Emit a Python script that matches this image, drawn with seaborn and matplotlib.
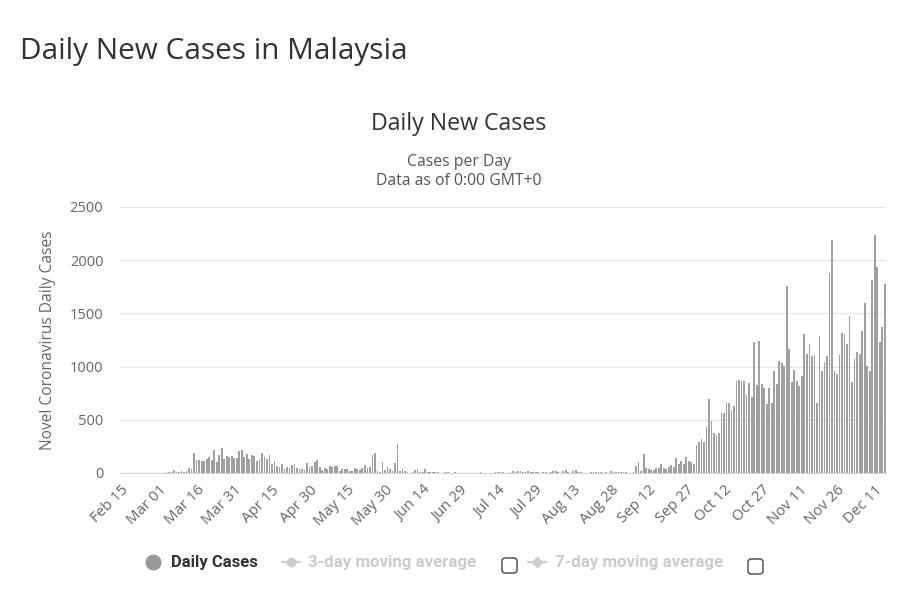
import numpy as np
import pandas as pd
import matplotlib
matplotlib.use("Agg")
import matplotlib.pyplot as plt
import seaborn as sns
from matplotlib.lines import Line2D
from matplotlib.patches import FancyBboxPatch
from matplotlib.transforms import IdentityTransform

# ---- data: daily new cases, Feb 15 - Dec 15, 2020 ----
feb = [0, 0, 0, 0, 0, 0, 0, 0, 0, 0, 0, 0, 1, 2, 0]
mar = [0, 4, 0, 7, 14, 5, 28, 10, 6, 18, 12, 20, 48, 41,
       190, 125, 120, 117, 110, 130, 153, 123, 212, 106, 172, 235, 130, 159, 150, 156, 140]
apr = [142, 208, 217, 150, 179, 131, 170, 156, 109, 118, 184, 153, 134, 170, 85,
       110, 69, 54, 84, 36, 57, 50, 71, 88, 51, 38, 40, 31, 94, 57]
may = [69, 105, 122, 55, 30, 45, 39, 68, 54, 67, 70, 16, 37, 40, 36, 17, 22, 47, 37, 31,
       50, 78, 48, 60, 172, 187, 15, 10, 103, 30, 57]
jun = [38, 20, 93, 277, 19, 37, 19, 7, 2, 7, 31, 33, 14, 8, 41, 9, 5, 10, 7, 6,
       3, 2, 8, 6, 3, 4, 5, 3, 4, 1]
jul = [1, 3, 0, 4, 3, 2, 5, 1, 3, 3, 2, 2, 10, 6, 8, 13, 2, 3, 5, 15, 7, 21, 15, 9,
       13, 17, 9, 11, 5, 9, 2]
aug = [6, 7, 3, 12, 19, 15, 13, 3, 19, 25, 7, 4, 16, 25, 8, 9, 4, 3, 2, 5, 6, 9, 6, 5,
       3, 8, 3, 17, 7, 10, 6]
sep = [6, 8, 5, 2, 3, 8, 62, 100, 18, 182, 45, 40, 30, 26, 50, 45, 84, 45, 37, 55,
       78, 57, 140, 82, 111, 82, 150, 115, 101, 89]
oct_ = [260, 287, 317, 293, 432, 691, 489, 374, 354, 374, 561, 563, 660, 660, 589, 629,
        869, 871, 865, 862, 732, 847, 710, 1228, 823, 1240, 835, 801, 649, 799, 659]
nov = [957, 834, 1054, 1032, 1009, 1755, 1168, 852, 972, 869, 822, 912, 1304, 1114, 1208,
       1100, 1105, 659, 1290, 960, 1041, 1096, 1884, 2188, 960, 935, 1109, 1315, 1309, 1212]
dec = [1472, 851, 1075, 1141, 1123, 1335, 1600, 1010, 959, 1810, 2234, 1937, 1229, 1371, 1772]

cases = feb + mar + apr + may + jun + jul + aug + sep + oct_ + nov + dec
dates = pd.date_range("2020-02-15", periods=len(cases), freq="D")
day_labels = [d.strftime("%b %d") for d in dates]

tick_labels = ["Feb 15", "Mar 01", "Mar 16", "Mar 31", "Apr 15", "Apr 30", "May 15",
               "May 30", "Jun 14", "Jun 29", "Jul 14", "Jul 29", "Aug 13", "Aug 28",
               "Sep 12", "Sep 27", "Oct 12", "Oct 27", "Nov 11", "Nov 26", "Dec 11"]
y_ticks = [0, 500, 1000, 1500, 2000, 2500]

# ---- figure ----
sns.set_theme(style="white")
plt.rcParams["font.family"] = ["Open Sans", "DejaVu Sans"]

W, H = 908, 606
fig = plt.figure(figsize=(W / 100, H / 100), dpi=100)
fig.patch.set_facecolor("white")

ax = fig.add_axes([120 / W, 1 - 473 / H, 766 / W, 266 / H])
df = pd.DataFrame({"day": day_labels, "cases": cases})
sns.barplot(data=df, x="day", y="cases", color="#a0a0a0", saturation=1,
            width=0.7, errorbar=None, ax=ax, linewidth=0)

ax.set_xlim(-0.5, len(cases) - 0.5)
ax.set_ylim(0, 2500)
ax.set_yticks(y_ticks)
ax.set_yticklabels([str(v) for v in y_ticks], fontsize=10.5, color="#666666")
ax.yaxis.grid(True, color="#e6e6e6", lw=0.8)
ax.xaxis.grid(False)
ax.set_axisbelow(True)
for s in ["top", "right", "left"]:
    ax.spines[s].set_visible(False)
ax.spines["bottom"].set_color("#ccd6eb")
ax.spines["bottom"].set_linewidth(0.8)

ax.set_xticks(list(range(0, 301, 15)))
ax.set_xticklabels(tick_labels, rotation=45, ha="right", rotation_mode="anchor",
                   fontsize=10.8, color="#666666")
ax.tick_params(axis="x", length=0, pad=7)
ax.tick_params(axis="y", length=0, pad=12)
ax.set_xlabel("")
ax.set_ylabel("Novel Coronavirus Daily Cases", fontsize=11.2, color="#666666")
ax.yaxis.set_label_coords(-0.083, 0.5)

# ---- titles ----
fig.text(20 / W, 1 - 51 / H, "Daily New Cases in Malaysia", fontsize=21.4,
         color="#333333", ha="left", va="center")
fig.text(459 / W, 1 - 124 / H, "Daily New Cases", fontsize=16.7,
         color="#333333", ha="center", va="center")
fig.text(459 / W, 1 - 162 / H, "Cases per Day", fontsize=11.3,
         color="#555555", ha="center", va="center")
fig.text(459 / W, 1 - 181 / H, "Data as of 0:00 GMT+0", fontsize=11.3,
         color="#555555", ha="center", va="center")

# ---- legend (drawn manually) ----
ly = 1 - 562 / H
fig.add_artist(Line2D([153 / W], [ly], marker="o", ms=10.5, color="#999999",
                      transform=fig.transFigure))
fig.text(171 / W, ly, "Daily Cases", fontsize=12, fontweight="bold",
         color="#333333", ha="left", va="center", family=["Roboto", "DejaVu Sans"])

fig.add_artist(Line2D([282 / W, 300 / W], [ly, ly], color="#cccccc", lw=1.5,
                      transform=fig.transFigure))
fig.add_artist(Line2D([291 / W], [ly], marker="o", ms=6, color="#cccccc",
                      transform=fig.transFigure))
fig.text(308 / W, ly, "3-day moving average", fontsize=12.2, fontweight="bold",
         color="#cccccc", ha="left", va="center", family=["Roboto", "DejaVu Sans"])

fig.add_artist(Line2D([528 / W, 546 / W], [ly, ly], color="#cccccc", lw=1.5,
                      transform=fig.transFigure))
fig.add_artist(Line2D([537 / W], [ly], marker="D", ms=5, color="#cccccc",
                      transform=fig.transFigure))
fig.text(555 / W, ly, "7-day moving average", fontsize=12.2, fontweight="bold",
         color="#cccccc", ha="left", va="center", family=["Roboto", "DejaVu Sans"])

for bx, by in [(502, 573), (748, 574)]:
    fig.add_artist(FancyBboxPatch((bx, H - by), 15, 15,
                                  boxstyle="round,pad=0,rounding_size=3",
                                  facecolor="white", edgecolor="#444444", lw=1,
                                  transform=IdentityTransform()))

fig.savefig("out.png", dpi=100, facecolor="white")
